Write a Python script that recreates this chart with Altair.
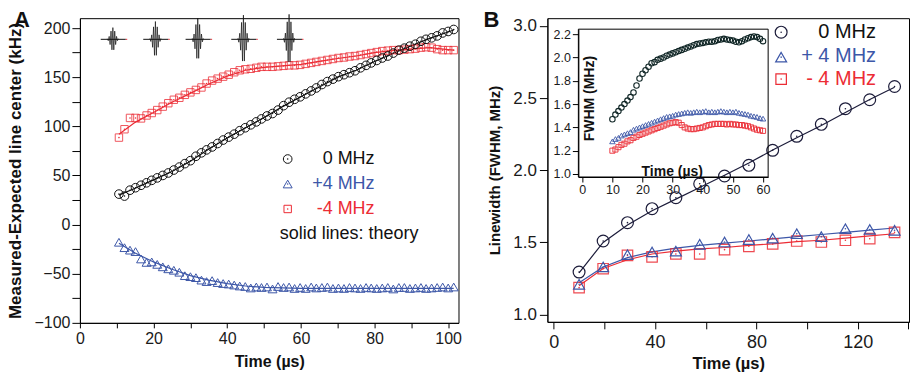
import altair as alt
import pandas as pd

FONT = "Liberation Sans"
BLACK = "#111111"
BLUE = "#3d57a8"
RED = "#ec2c35"
NAVY = "#1c1c3a"
TEAL = "#102626"

# ---------------- Panel A: line-center shift ----------------
A_TIME = [10.6, 12.1, 13.6, 15.1, 16.6, 18.1, 19.5, 21.0, 22.5, 24.0, 25.5, 27.0, 28.5, 30.0, 31.5,
          33.0, 34.4, 35.9, 37.4, 38.9, 40.4, 41.9, 43.4, 44.9, 46.4, 47.9, 49.3, 50.8, 52.3, 53.8,
          55.3, 56.8, 58.3, 59.8, 61.3, 62.8, 64.2, 65.7, 67.2, 68.7, 70.2, 71.7, 73.2, 74.7, 76.2,
          77.7, 79.1, 80.6, 82.1, 83.6, 85.1, 86.6, 88.1, 89.6, 91.1, 92.6, 94.0, 95.5, 97.0, 98.5,
          100.0, 101.5]
A_ZERO = [31, 29, 35, 37.5, 40, 42.5, 45, 47.5, 50, 52.5, 55.5, 58.5, 62, 65, 69.5, 73, 76, 79, 82.5, 86,
          89, 92, 95.5, 98.5, 101.5, 104.5, 107.5, 110.5, 113, 116.5, 121, 124.5, 127.5, 130, 133, 136,
          139, 142.5, 145.5, 148, 150.5, 152.5, 154.5, 156.5, 159.5, 162, 164.5, 167, 169.5, 171.5,
          174.5, 177.5, 179.5, 181.5, 183.5, 186.5, 188.5, 190, 192, 195, 196.5, 198.5]
A_PLUS4 = [-18, -23.5, -26, -27.5, -35, -38.5, -38, -40.5, -43, -45, -46.5, -48.5, -52, -53, -54, -56.5,
           -58, -57, -59, -60, -60.5, -61.5, -62.5, -63, -64.5, -63.5, -64, -63.5, -65.5, -63, -64, -63.5,
           -65, -64, -65, -63.5, -64.5, -64, -63.5, -65, -64.5, -65, -64, -64.5, -65, -64, -64.5, -65,
           -64.5, -64, -65.5, -64, -64, -65, -64.5, -64, -65, -64.5, -64, -63.5, -64.5, -63.5]
A_MINUS4 = [88.5, 97, 108.5, 108.5, 108, 111, 113.5, 116.5, 120, 123.5, 127, 129, 132, 134.5, 137, 139.5,
            143.5, 146.5, 148.5, 150.5, 152.5, 155, 157, 158, 158.5, 159.5, 160.5, 160.5, 160.5, 161,
            161.5, 162, 162, 162.5, 163.5, 164.5, 165.5, 166.5, 167.5, 168.5, 169.5, 170, 171, 171.5,
            172.5, 173.5, 174.5, 175.5, 176.5, 177, 177.5, 177.5, 178, 178.5, 179, 180, 180.5, 180,
            178.5, 177.5, 177.5, 177.5]

A_TH_TIME = [10.6, 15, 20, 25, 30, 35, 40, 45, 50, 55, 60, 65, 70, 75, 80, 85, 90, 95, 100, 101.5]
A_TH_ZERO = [30, 37, 45.5, 54, 64.5, 77, 88, 98.5, 109, 120, 130, 140, 150, 157, 166, 174, 182, 189.5, 196, 198]
A_TH_PLUS4 = [-19, -29, -38, -45.5, -52, -56.5, -60, -62.5, -64, -64.5, -65, -65, -65, -65, -65, -65, -65, -65, -65, -65]
A_TH_MINUS4 = [92, 104, 114, 124.5, 133.5, 143, 151, 157, 160, 161.5, 163, 166, 169, 171.5, 175, 177, 178.5, 180, 178, 177.5]

# pulse-sequence icons drawn at the top of panel A
PULSE_T = [8.95, 20.5, 32.0, 44.4, 56.8]
PULSE_AMP = [11.9, 18.1, 21.5, 24.6, 25.4]
PULSE_LEVEL = 188.5
PULSE_ENV = [0.05, 0.12, 0.25, 0.45, 0.7, 0.9, 1.0, 0.9, 0.7, 0.45, 0.25, 0.12, 0.05]
PULSE_STEP = 0.25

# ---------------- Panel B: linewidth ----------------
B_TIME = [10.0, 19.5, 29.1, 38.8, 48.2, 57.6, 67.4, 77.0, 86.4, 95.9, 105.6, 115.1, 124.7, 134.5]
B_ZERO = [1.295, 1.51, 1.637, 1.734, 1.81, 1.906, 1.96, 2.034, 2.138, 2.235, 2.318, 2.426, 2.488, 2.58]
B_PLUS4 = [1.21, 1.33, 1.415, 1.434, 1.44, 1.487, 1.503, 1.52, 1.53, 1.56, 1.54, 1.595, 1.59, 1.584]
B_MINUS4 = [1.187, 1.318, 1.41, 1.40, 1.42, 1.42, 1.45, 1.473, 1.49, 1.51, 1.503, 1.515, 1.526, 1.57]
B_TH_ZERO = [1.29, 1.50, 1.62, 1.72, 1.80, 1.88, 1.965, 2.05, 2.14, 2.225, 2.31, 2.40, 2.49, 2.575]
B_TH_PLUS4 = [1.22, 1.33, 1.395, 1.435, 1.46, 1.48, 1.495, 1.51, 1.525, 1.54, 1.555, 1.57, 1.585, 1.60]
B_TH_MINUS4 = [1.20, 1.32, 1.38, 1.42, 1.44, 1.455, 1.465, 1.48, 1.49, 1.505, 1.515, 1.53, 1.545, 1.56]

INSET_TIME = [10, 11, 12, 13, 14, 15, 16, 17, 18, 19, 20, 21, 22, 23, 24, 25, 26, 27, 28, 29, 30,
              31, 32, 33, 34, 35, 36, 37, 38, 39, 40, 41, 42, 43, 44, 45, 46, 47, 48, 49, 50,
              51, 52, 53, 54, 55, 56, 57, 58, 59, 60]
INSET_ZERO = [1.47, 1.51, 1.54, 1.57, 1.60, 1.63, 1.66, 1.70, 1.76, 1.82, 1.86, 1.89, 1.92, 1.95, 1.96,
              1.98, 1.99, 2.00, 2.015, 2.025, 2.035, 2.045, 2.055, 2.065, 2.075, 2.085, 2.095, 2.105,
              2.115, 2.12, 2.125, 2.13, 2.135, 2.135, 2.14, 2.15, 2.155, 2.16, 2.155, 2.15, 2.145,
              2.135, 2.13, 2.14, 2.155, 2.165, 2.175, 2.18, 2.175, 2.16, 2.14]
INSET_PLUS4 = [1.28, 1.30, 1.31, 1.33, 1.34, 1.35, 1.36, 1.38, 1.39, 1.40, 1.41, 1.42, 1.43, 1.44, 1.45,
               1.46, 1.47, 1.48, 1.49, 1.495, 1.50, 1.51, 1.515, 1.52, 1.525, 1.53, 1.525, 1.53, 1.535,
               1.53, 1.535, 1.54, 1.53, 1.535, 1.53, 1.535, 1.54, 1.535, 1.53, 1.535, 1.53, 1.535,
               1.525, 1.52, 1.515, 1.51, 1.50, 1.495, 1.49, 1.48, 1.475]
INSET_MINUS4 = [1.20, 1.21, 1.23, 1.25, 1.26, 1.28, 1.29, 1.31, 1.32, 1.335, 1.345, 1.355, 1.365, 1.375,
                1.385, 1.395, 1.405, 1.415, 1.425, 1.435, 1.44, 1.445, 1.44, 1.42, 1.40, 1.39, 1.385,
                1.385, 1.39, 1.395, 1.40, 1.41, 1.42, 1.425, 1.43, 1.43, 1.43, 1.43, 1.425, 1.43, 1.425,
                1.425, 1.42, 1.42, 1.415, 1.41, 1.40, 1.39, 1.38, 1.375, 1.37]

# ---------------- helpers ----------------
ONE = pd.DataFrame({"k": [0]})


def frame(times, values):
    return pd.DataFrame({"t": times, "v": values})


def iframe(times, values):
    return pd.DataFrame({"ti": times, "vi": values})


def points(df, x, y, shape, color, size, sw=1.0, opacity=1.0):
    return alt.Chart(df).mark_point(shape=shape, filled=False, color=color, size=size,
                                    strokeWidth=sw, opacity=opacity).encode(x=x, y=y)


def dots(df, x, y, color, size=2.5):
    return alt.Chart(df).mark_point(shape="circle", filled=True, color=color, size=size,
                                    opacity=1).encode(x=x, y=y)


def line(df, x, y, color, sw=1.2):
    return alt.Chart(df).mark_line(color=color, strokeWidth=sw).encode(x=x, y=y)


def key(shape, px, py, color, size, sw=1.0):
    mark = alt.Chart(ONE).mark_point(shape=shape, filled=False, color=color, size=size,
                                     strokeWidth=sw, opacity=1).encode(x=alt.value(px), y=alt.value(py))
    dot = alt.Chart(ONE).mark_point(shape="circle", filled=True, color=color, size=2.5,
                                    opacity=1).encode(x=alt.value(px), y=alt.value(py))
    return mark + dot


def label(text, px, py, color, size, align="right", weight="normal"):
    return alt.Chart(ONE).mark_text(text=text, align=align, baseline="middle", font=FONT,
                                    fontSize=size, fontWeight=weight, color=color).encode(
        x=alt.value(px), y=alt.value(py))


# ---------------- Panel A ----------------
A_X_TICKS = [0, 10, 20, 30, 40, 50, 60, 70, 80, 90, 100]
A_Y_TICKS = [-100, -75, -50, -25, 0, 25, 50, 75, 100, 125, 150, 175, 200]

XA = alt.X("t:Q", scale=alt.Scale(domain=[0, 102.8], nice=False, zero=False),
           axis=alt.Axis(orient="bottom", title="Time (µs)", values=A_X_TICKS,
                         labelExpr="datum.value % 20 === 0 ? datum.label : ''",
                         tickSize=5, labelPadding=3, labelFontSize=16, titleFontSize=16,
                         titleFontWeight="bold", titlePadding=7, labelFlush=False, labelOverlap=False))
YA = alt.Y("v:Q", scale=alt.Scale(domain=[-100, 210], nice=False, zero=False),
           axis=alt.Axis(orient="left", title="Measured-Expected line center (kHz)", values=A_Y_TICKS,
                         labelExpr="datum.value % 50 === 0 ? datum.label : ''",
                         tickSize=8, labelPadding=2, labelFontSize=16, titleFontSize=17,
                         titleFontWeight="bold", titlePadding=9, labelFlush=False, labelOverlap=False))

a_zero = frame(A_TIME, A_ZERO)
a_plus = frame(A_TIME, A_PLUS4)
a_minus = frame(A_TIME, A_MINUS4)

pulse_rows = []
n_env = len(PULSE_ENV)
for p, (tc, amp) in enumerate(zip(PULSE_T, PULSE_AMP)):
    for k, e in enumerate(PULSE_ENV):
        sign = 1 if k % 2 == 0 else -1
        pulse_rows.append({"pulse": p, "k": k, "t": tc + (k - (n_env - 1) / 2) * PULSE_STEP,
                           "v": PULSE_LEVEL + sign * amp * e})
pulse_df = pd.DataFrame(pulse_rows)
base_df = pd.DataFrame({"t": [tc - 3.3 for tc in PULSE_T], "t2": [tc + 3.5 for tc in PULSE_T],
                        "v": [PULSE_LEVEL] * len(PULSE_T)})
tip_df = pd.DataFrame({"t": [tc + 3.5 for tc in PULSE_T], "t2": [tc + 3.9 for tc in PULSE_T],
                       "v": [PULSE_LEVEL] * len(PULSE_T)})

pulse_lines = alt.Chart(pulse_df).mark_line(color=BLACK, strokeWidth=0.7).encode(
    x=XA, y=YA, detail="pulse:N", order="k:Q")
pulse_base = alt.Chart(base_df).mark_rule(color=BLACK, strokeWidth=1).encode(x=XA, x2="t2:Q", y=YA)
pulse_tip = alt.Chart(tip_df).mark_rule(color=RED, strokeWidth=1).encode(x=XA, x2="t2:Q", y=YA)

panel_a = alt.layer(
    line(frame(A_TH_TIME, A_TH_MINUS4), XA, YA, RED),
    line(frame(A_TH_TIME, A_TH_ZERO), XA, YA, BLACK),
    line(frame(A_TH_TIME, A_TH_PLUS4), XA, YA, BLUE),
    points(a_minus, XA, YA, "square", RED, 55, 1.0, 0.8),
    dots(a_minus, XA, YA, RED),
    points(a_zero, XA, YA, "circle", BLACK, 75, 1.0),
    dots(a_zero, XA, YA, BLACK),
    points(a_plus, XA, YA, "triangle-up", BLUE, 80, 1.0),
    pulse_base, pulse_tip, pulse_lines,
    key("circle", 208, 141, BLACK, 75),
    key("triangle-up", 208, 166, BLUE, 80),
    key("square", 208, 191, RED, 55),
    label("0 MHz", 295, 141, BLACK, 18),
    label("+4 MHz", 295, 166, BLUE, 18),
    label("-4 MHz", 295, 191, RED, 18),
    label("solid lines: theory", 200, 216, BLACK, 18, align="left"),
    label("A", -58, 2, BLACK, 22, align="center", weight="bold"),
).properties(width=379, height=305)

# ---------------- Panel B ----------------
XB = alt.X("t:Q", scale=alt.Scale(domain=[-2.5, 140.2], nice=False, zero=False),
           axis=alt.Axis(orient="bottom", title="Time (µs)", values=[0, 20, 40, 60, 80, 100, 120, 140],
                         labelExpr="datum.value % 40 === 0 ? datum.label : ''",
                         tickSize=7, labelPadding=5, labelFontSize=18, titleFontSize=16.5,
                         titleFontWeight="bold", titlePadding=4, labelFlush=False, labelOverlap=False))
YB = alt.Y("v:Q", scale=alt.Scale(domain=[0.95, 3.053], nice=False, zero=False),
           axis=alt.Axis(orient="left", title="Linewidth (FWHM, MHz)", values=[1.0, 1.5, 2.0, 2.5, 3.0],
                         format=".1f", tickSize=8, labelPadding=3, labelFontSize=17, titleFontSize=15,
                         titleFontWeight="bold", titlePadding=10, labelFlush=False, labelOverlap=False))

XI = alt.X("ti:Q", scale=alt.Scale(domain=[-1.3, 61.7], range=[31, 221], nice=False, zero=False),
           axis=alt.Axis(orient="bottom", offset=-145, title="Time (µs)",
                         values=[0, 10, 20, 30, 40, 50, 60], tickSize=5, labelPadding=2,
                         labelFontSize=12.5, titleFontSize=14, titleFontWeight="bold",
                         titleX=124.5, titleY=-2, titleBaseline="alphabetic",
                         labelFlush=False, labelOverlap=False))
YI = alt.Y("vi:Q", scale=alt.Scale(domain=[0.974, 2.243], range=[159, 11], nice=False, zero=False),
           axis=alt.Axis(orient="left", offset=-31, title="FWHM (MHz)",
                         values=[1.0, 1.2, 1.4, 1.6, 1.8, 2.0, 2.2], format=".1f", tickSize=6,
                         labelPadding=2, labelFontSize=12.5, titleFontSize=14, titleFontWeight="bold",
                         titleX=15, titleY=80, titleAngle=270, titleBaseline="alphabetic",
                         labelFlush=False, labelOverlap=False))

inset = alt.layer(
    points(iframe(INSET_TIME, INSET_MINUS4), XI, YI, "square", RED, 26, 1.0, 0.9),
    points(iframe(INSET_TIME, INSET_PLUS4), XI, YI, "triangle-up", BLUE, 30, 1.0, 0.9),
    points(iframe(INSET_TIME, INSET_ZERO), XI, YI, "circle", TEAL, 30, 1.1),
)

b_zero = frame(B_TIME, B_ZERO)
b_plus = frame(B_TIME, B_PLUS4)
b_minus = frame(B_TIME, B_MINUS4)

b_main = alt.layer(
    line(frame(B_TIME, B_TH_MINUS4), XB, YB, RED),
    line(frame(B_TIME, B_TH_PLUS4), XB, YB, BLUE),
    line(frame(B_TIME, B_TH_ZERO), XB, YB, NAVY),
    points(b_minus, XB, YB, "square", RED, 110, 1.2, 0.85),
    dots(b_minus, XB, YB, RED),
    points(b_plus, XB, YB, "triangle-up", BLUE, 120, 1.2),
    dots(b_plus, XB, YB, BLUE),
    points(b_zero, XB, YB, "circle", NAVY, 140, 1.2),
    dots(b_zero, XB, YB, NAVY),
    key("circle", 234, 14, NAVY, 140, 1.2),
    key("triangle-up", 234, 39, BLUE, 120, 1.2),
    key("square", 234, 61, RED, 110, 1.2),
    label("0 MHz", 329, 14, BLACK, 20),
    label("+ 4 MHz", 329, 38, BLUE, 20),
    label("- 4 MHz", 329, 61, RED, 20),
    label("B", -56, 2, BLACK, 22, align="center", weight="bold"),
)

inset_frame = alt.Chart(ONE).mark_rect(fill=None, stroke="#000", strokeWidth=1).encode(
    x=alt.value(31), x2=alt.value(221), y=alt.value(11), y2=alt.value(159))

panel_b = alt.layer(b_main, inset, inset_frame).resolve_scale(
    x="independent", y="independent").properties(width=362, height=304)

chart = alt.hconcat(panel_a, panel_b, spacing=20).properties(
    padding={"left": 6, "top": 8, "right": 0, "bottom": 0},
    background="white",
).configure(font=FONT).configure_view(stroke="#000", strokeWidth=1).configure_axis(
    domainColor="#000", tickColor="#000", labelColor="#1a1a1a", titleColor="#111",
    labelFont=FONT, titleFont=FONT, grid=False, domainWidth=1, tickWidth=1)

chart.save("out.html", embed_options={"renderer": "svg", "actions": False})
